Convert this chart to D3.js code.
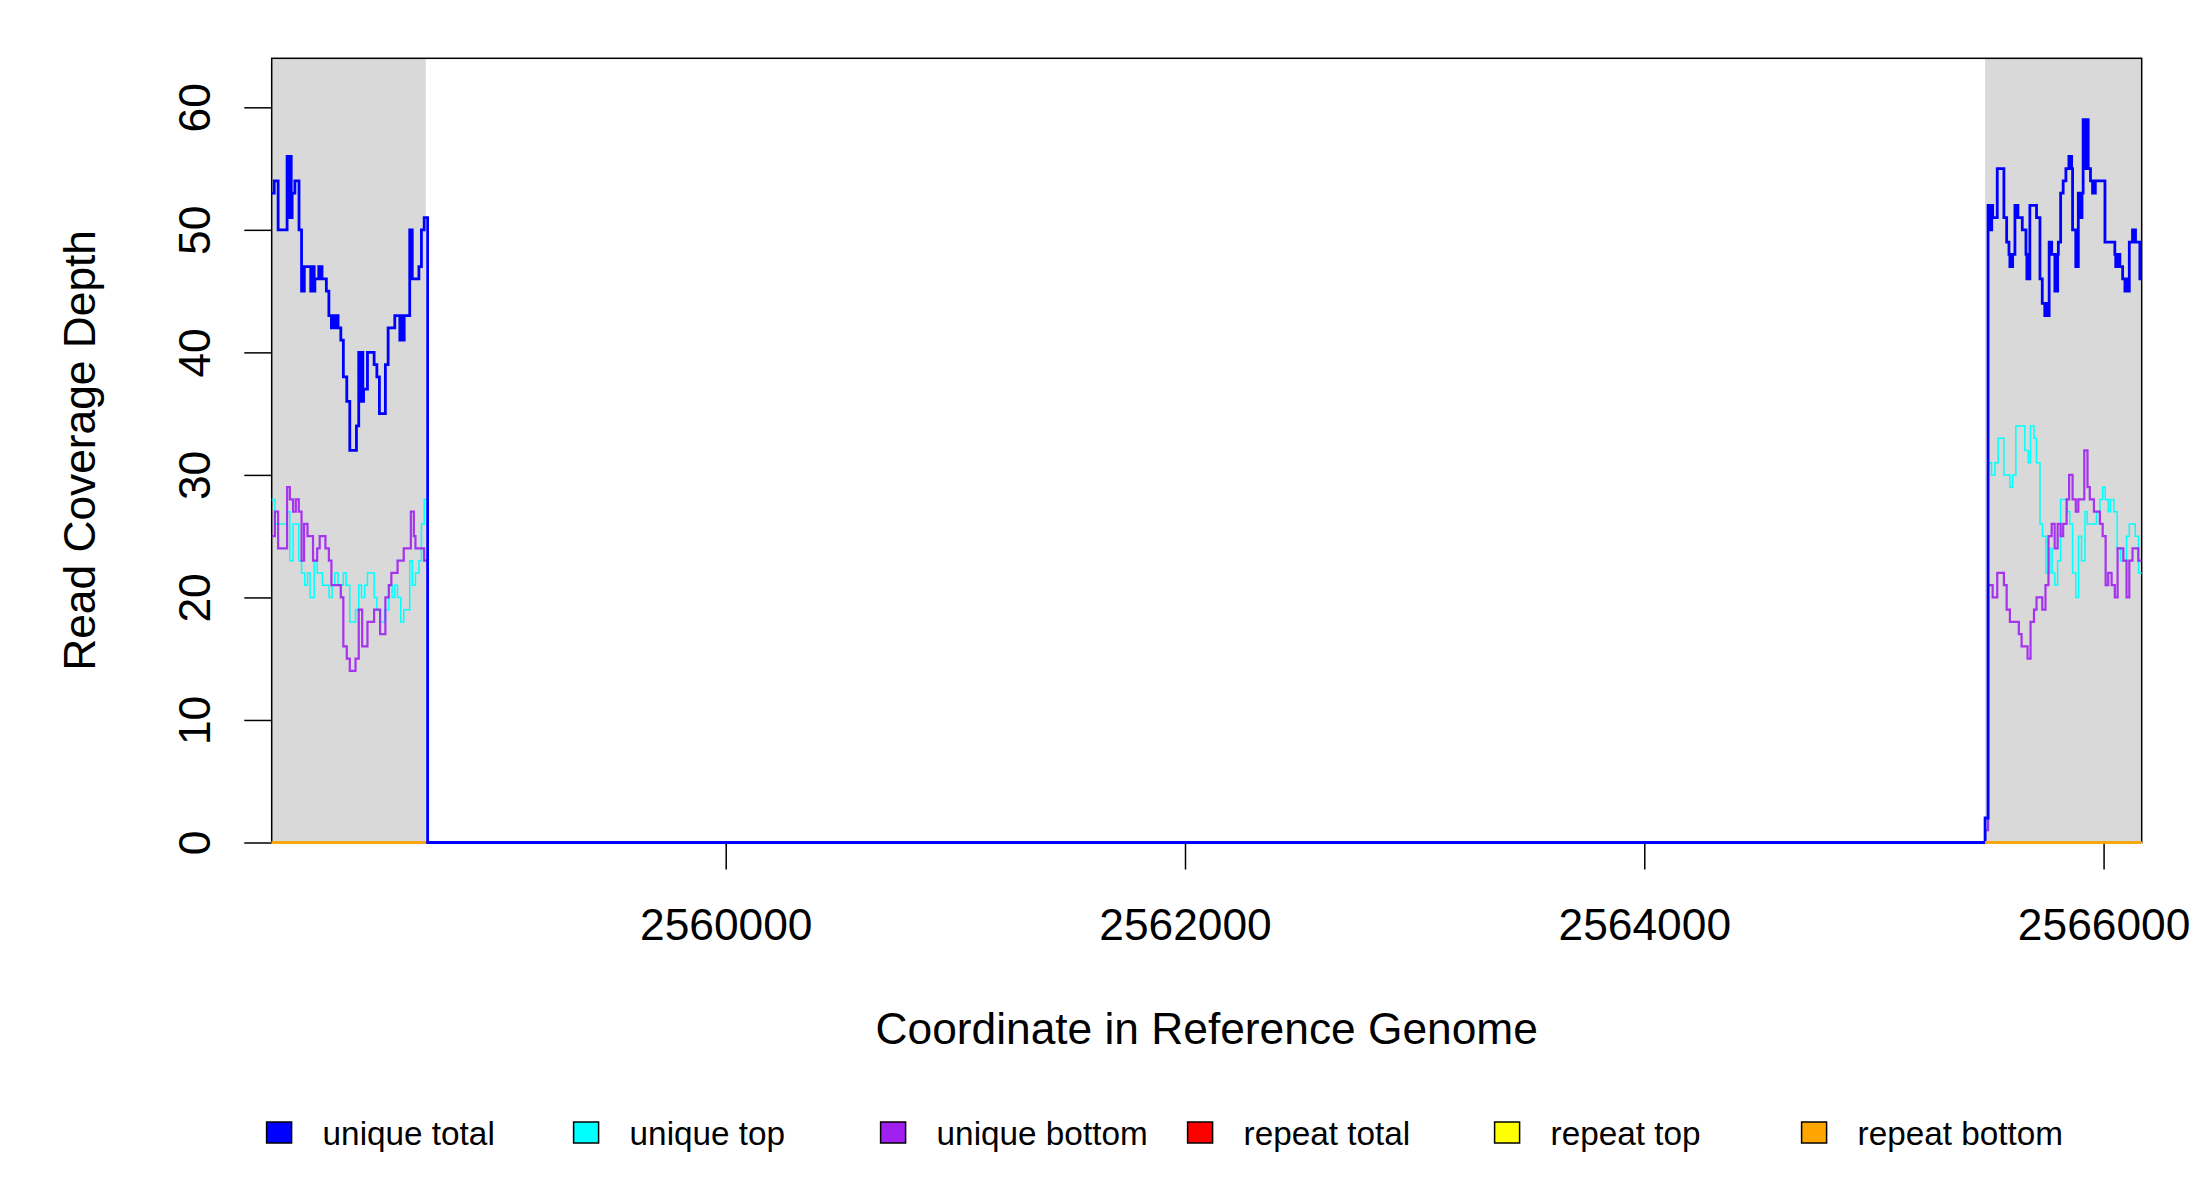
<!DOCTYPE html>
<html>
<head>
<meta charset="utf-8">
<script src="https://cdn.jsdelivr.net/npm/d3@7"></script>
<style>
  html, body { margin: 0; padding: 0; background: #ffffff; }
  svg { display: block; }
  text { font-family: "Liberation Sans", Arial, Helvetica, sans-serif; fill: #000; }
</style>
</head>
<body>
<svg id="chart" width="2200" height="1200"></svg>
<script>
// ---------------- DATA ----------------
const xDomain = [2558023, 2566166];
const yDomain = [0, 64];
const xTicks = [2560000, 2562000, 2564000, 2566000];
const yTicks = [0, 10, 20, 30, 40, 50, 60];

// shaded (covered) regions
const shadedRegions = [[2558023, 2558694], [2565484, 2566166]];

// step data: [start coordinate, depth]
const uniqueTotal = [
  [2558023,53],[2558034,54],[2558051,50],[2558090,56],[2558094,51],[2558097,56],[2558101,51],[2558104,56],[2558108,51],
  [2558112,53],[2558124,54],[2558142,50],[2558153,45],[2558157,47],[2558161,45],[2558165,47],[2558193,45],[2558197,47],
  [2558201,45],[2558205,47],[2558208,45],[2558211,46],[2558228,47],[2558234,46],[2558238,47],[2558242,46],[2558261,45],
  [2558272,43],[2558283,42],[2558288,43],[2558293,42],[2558298,43],[2558303,42],[2558307,43],[2558312,42],[2558324,41],
  [2558335,38],[2558350,36],[2558363,32],[2558392,34],[2558402,40],[2558407,36],[2558410,40],[2558414,36],[2558417,40],
  [2558420,36],[2558423,37],[2558440,40],[2558469,39],[2558481,38],[2558492,35],[2558518,39],[2558530,42],[2558559,43],
  [2558581,41],[2558585,43],[2558589,41],[2558593,43],[2558597,41],[2558600,43],[2558624,50],[2558628,46],[2558631,50],
  [2558635,46],[2558664,47],[2558675,50],[2558687,51],[2558702,0],
  [2565484,2],[2565497,52],[2565501,50],[2565505,52],[2565509,50],[2565513,52],[2565517,51],[2565537,55],[2565566,51],
  [2565578,49],[2565588,48],[2565592,47],[2565596,48],[2565600,47],[2565604,48],[2565614,52],[2565618,51],[2565622,52],
  [2565627,51],[2565646,50],[2565662,48],[2565666,46],[2565670,48],[2565674,46],[2565679,52],[2565708,51],[2565723,46],
  [2565733,44],[2565744,43],[2565748,44],[2565752,43],[2565757,44],[2565761,43],[2565763,49],[2565767,48],[2565770,49],
  [2565774,48],[2565788,45],[2565792,48],[2565796,45],[2565800,48],[2565803,49],[2565813,53],[2565824,54],[2565836,55],
  [2565849,56],[2565853,55],[2565857,56],[2565861,55],[2565865,50],[2565879,47],[2565883,50],[2565887,47],[2565890,53],
  [2565894,51],[2565898,53],[2565902,51],[2565906,53],[2565911,59],[2565915,55],[2565919,59],[2565923,55],[2565927,59],
  [2565933,55],[2565943,54],[2565952,53],[2565956,54],[2565960,53],[2565964,54],[2566006,49],[2566049,48],[2566053,47],
  [2566057,48],[2566061,47],[2566065,48],[2566071,47],[2566083,46],[2566093,45],[2566097,46],[2566101,45],[2566105,46],
  [2566109,45],[2566112,49],[2566126,50],[2566130,49],[2566134,50],[2566139,49],[2566158,46]
];

const uniqueTop = [
  [2558023,28],[2558037,26],[2558090,27],[2558102,23],[2558116,26],[2558141,23],[2558153,22],[2558167,21],[2558179,22],
  [2558190,20],[2558208,23],[2558221,22],[2558244,21],[2558273,20],[2558286,21],[2558298,22],[2558312,21],[2558335,22],
  [2558347,21],[2558363,18],[2558388,19],[2558402,21],[2558414,20],[2558428,21],[2558440,22],[2558469,20],[2558481,19],
  [2558495,18],[2558515,19],[2558533,21],[2558547,20],[2558559,21],[2558571,20],[2558585,18],[2558598,19],[2558624,23],
  [2558635,21],[2558649,22],[2558664,23],[2558675,26],[2558687,28],[2558702,0],
  [2565484,1],[2565497,31],[2565512,30],[2565527,31],[2565541,33],[2565566,30],[2565592,29],[2565604,30],[2565618,34],
  [2565657,32],[2565672,31],[2565682,34],[2565697,33],[2565708,31],[2565723,26],[2565734,25],[2565749,22],[2565766,24],
  [2565776,22],[2565788,21],[2565800,23],[2565813,28],[2565842,27],[2565853,26],[2565865,22],[2565879,20],[2565891,25],
  [2565904,23],[2565919,27],[2565929,26],[2565969,27],[2565984,28],[2565996,29],[2566007,28],[2566020,27],[2566030,28],
  [2566045,27],[2566059,24],[2566074,23],[2566100,25],[2566112,26],[2566138,25],[2566152,22]
];

const uniqueBottom = [
  [2558023,25],[2558037,27],[2558051,24],[2558090,29],[2558102,28],[2558116,27],[2558128,28],[2558141,27],[2558153,23],
  [2558164,26],[2558179,25],[2558203,23],[2558221,24],[2558232,25],[2558257,24],[2558272,23],[2558283,21],[2558324,20],
  [2558335,16],[2558350,15],[2558363,14],[2558388,15],[2558402,19],[2558417,16],[2558440,18],[2558469,19],[2558495,17],
  [2558518,20],[2558533,21],[2558544,22],[2558571,23],[2558598,24],[2558629,27],[2558642,25],[2558649,24],[2558687,23],
  [2558702,0],
  [2565484,1],[2565497,21],[2565517,20],[2565537,22],[2565566,21],[2565578,19],[2565592,18],[2565631,17],[2565643,16],
  [2565669,15],[2565682,18],[2565697,19],[2565708,20],[2565733,19],[2565747,21],[2565760,25],[2565774,26],[2565787,24],
  [2565800,26],[2565813,25],[2565824,26],[2565839,28],[2565850,30],[2565865,28],[2565879,27],[2565890,28],[2565916,32],
  [2565930,29],[2565940,28],[2565958,27],[2565984,26],[2565996,25],[2566009,21],[2566020,22],[2566035,21],[2566049,20],
  [2566061,24],[2566086,23],[2566100,20],[2566112,23],[2566126,24],[2566151,23]
];

// repeat coverage: zero within the covered regions (NaN = no data)
const repeatTotal  = [[2558023,0],[2558694,0],[2558695,NaN],[2565484,0]];
const repeatTop    = [[2558023,0],[2558694,0],[2558695,NaN],[2565484,0]];
const repeatBottom = [[2558023,0],[2558694,0],[2558695,NaN],[2565484,0]];

const seriesNames  = ["unique total", "unique top", "unique bottom", "repeat total", "repeat top", "repeat bottom"];
const seriesColors = ["#0000FF", "#00FFFF", "#A020F0", "#FF0000", "#FFFF00", "#FFA500"];

const xTitle = "Coordinate in Reference Genome";
const yTitle = "Read Coverage Depth";

// ---------------- CHART ----------------
const svg = d3.select("#chart");
const L = 271.7, R = 2141.7, T = 58.3, B = 842.5;

const x = d3.scaleLinear().domain(xDomain).range([L, R]);
const y = d3.scaleLinear().domain(yDomain).range([B, T]);

svg.append("rect").attr("width", 2200).attr("height", 1200).attr("fill", "#fff");

// shaded regions
svg.append("g").selectAll("rect").data(shadedRegions).join("rect")
  .attr("x", d => x(d[0])).attr("y", T)
  .attr("width", d => x(d[1]) - x(d[0])).attr("height", B - T)
  .attr("fill", "#D9D9D9");

// box
svg.append("rect").attr("x", L).attr("y", T).attr("width", R - L).attr("height", B - T)
  .attr("fill", "none").attr("stroke", "#000").attr("stroke-width", 1.5);

// axes
const xAxis = d3.axisBottom(x).tickValues(xTicks).tickFormat(d3.format("d")).tickSize(27).tickSizeOuter(0);
const gx = svg.append("g").attr("transform", `translate(0,${B})`).call(xAxis);
gx.select(".domain").remove();
gx.selectAll(".tick line").attr("stroke", "#000").attr("stroke-width", 1.5);
gx.selectAll(".tick text").attr("y", 97.5).attr("dy", 0)
  .style("font-size", "44.3px").style("font-family", "'Liberation Sans', Arial, sans-serif").attr("fill", "#000");

const yAxis = d3.axisLeft(y).tickValues(yTicks).tickFormat(d3.format("d")).tickSize(27.4).tickSizeOuter(0);
const gy = svg.append("g").attr("transform", `translate(${L},0)`).call(yAxis);
gy.select(".domain").remove();
gy.selectAll(".tick line").attr("stroke", "#000").attr("stroke-width", 1.5);
gy.selectAll(".tick text").attr("x", 0).attr("y", 0).attr("dy", 0)
  .attr("text-anchor", "middle")
  .attr("transform", "translate(-62,0) rotate(-90)")
  .style("font-size", "44.3px").style("font-family", "'Liberation Sans', Arial, sans-serif").attr("fill", "#000");

// titles
svg.append("text").attr("x", (L + R) / 2).attr("y", 1044).attr("text-anchor", "middle")
  .style("font-size", "44.3px").text(xTitle);
svg.append("text").attr("transform", `translate(95,${(T + B) / 2}) rotate(-90)`).attr("text-anchor", "middle")
  .style("font-size", "44.3px").text(yTitle);

// lines
const withEnd = arr => arr.concat([[xDomain[1], arr[arr.length - 1][1]]]);
const line = d3.line()
  .defined(d => !isNaN(d[1]))
  .x(d => x(d[0])).y(d => y(d[1]))
  .curve(d3.curveStepAfter);

const layers = [
  { data: uniqueTop,    color: seriesColors[1], w: 1.5, o: 1 },
  { data: uniqueBottom, color: seriesColors[2], w: 2.2, o: 0.9 },
  { data: uniqueTotal,  color: seriesColors[0], w: 2.8, o: 1 },
  { data: repeatTotal,  color: seriesColors[3], w: 2.0, o: 1 },
  { data: repeatTop,    color: seriesColors[4], w: 2.0, o: 1 },
  { data: repeatBottom, color: seriesColors[5], w: 2.0, o: 1 }
];
svg.append("g").selectAll("path").data(layers).join("path")
  .attr("d", d => line(withEnd(d.data)))
  .attr("fill", "none")
  .attr("stroke", d => d.color)
  .attr("stroke-opacity", d => d.o)
  .attr("stroke-width", d => d.w)
  .attr("stroke-linejoin", "miter");

// legend
const lg = svg.append("g").selectAll("g").data(seriesNames).join("g")
  .attr("transform", (d, i) => `translate(${266.6 + i * 307},0)`);
lg.append("rect").attr("x", 0).attr("y", 1122).attr("width", 25).attr("height", 21)
  .attr("fill", (d, i) => seriesColors[i]).attr("stroke", "#000").attr("stroke-width", 1.5);
lg.append("text").attr("x", 56).attr("y", 1145).style("font-size", "33.3px").text(d => d);
</script>
</body>
</html>
